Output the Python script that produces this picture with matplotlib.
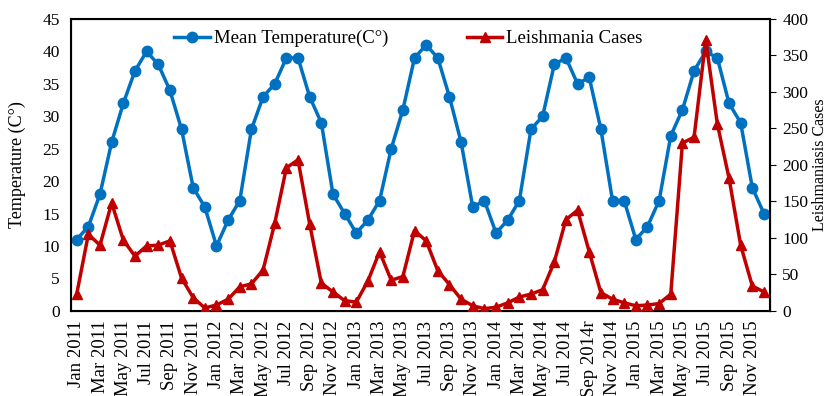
import numpy as np
import matplotlib.pyplot as plt

plt.rcParams['font.family'] = ['Liberation Serif', 'DejaVu Serif']

# 月份标签（每月一个点，2011-01 到 2015-12）
months = ['Jan', 'Feb', 'Mar', 'Apr', 'May', 'Jun',
          'Jul', 'Aug', 'Sep', 'Oct', 'Nov', 'Dec']
years = [2011, 2012, 2013, 2014, 2015]
labels = [f'{m} {y}' for y in years for m in months]
labels[labels.index('Sep 2014')] = 'Sep 2014r'  # 原图里的笔误

temperature = [11, 13, 18, 26, 32, 37, 40, 38, 34, 28, 19, 16,
               10, 14, 17, 28, 33, 35, 39, 39, 33, 29, 18, 15,
               12, 14, 17, 25, 31, 39, 41, 39, 33, 26, 16, 17,
               12, 14, 17, 28, 30, 38, 39, 35, 36, 28, 17, 17,
               11, 13, 17, 27, 31, 37, 40, 39, 32, 29, 19, 15]

cases = [23, 105, 90, 148, 97, 75, 89, 90, 96, 45, 18, 4,
         8, 16, 33, 37, 56, 120, 196, 207, 119, 38, 26, 14,
         12, 41, 81, 42, 47, 110, 96, 55, 36, 16, 7, 3,
         5, 11, 19, 23, 29, 67, 125, 138, 81, 25, 16, 11,
         7, 8, 10, 23, 230, 238, 371, 256, 182, 90, 34, 26]

x = np.arange(len(labels))

fig = plt.figure(figsize=(8.34, 3.96), dpi=100)
ax = fig.add_axes([0.085, 0.215, 0.838, 0.737])
ax2 = ax.twinx()

l1, = ax.plot(x, temperature, color='#0070C0', lw=2.5, marker='o', ms=7.5,
              label='Mean Temperature(C°)', zorder=3)
l2, = ax2.plot(x, cases, color='#C00000', lw=2.5, marker='^', ms=7.5,
               label='Leishmania Cases', zorder=3)

ax.set_xlim(-0.5, len(labels) - 0.5)
ax.set_ylim(0, 45)
ax.set_yticks(range(0, 46, 5))
ax2.set_ylim(0, 400)
ax2.set_yticks(range(0, 401, 50))

ax.set_xticks(x[::2])
ax.set_xticklabels(labels[::2], rotation=90, fontsize=13.5)
ax.tick_params(axis='x', length=0, pad=7)
ax.tick_params(axis='y', labelsize=12.5, length=0, pad=8)
ax2.tick_params(axis='y', labelsize=12.5, direction='out', length=4, pad=5)

ax.set_ylabel('Temperature (C°)', fontsize=13, labelpad=12)
ax2.set_ylabel('Leishmaniasis Cases', fontsize=11.5, labelpad=3)

for sp in ax2.spines.values():
    sp.set_linewidth(1.5)

ax2.legend([l1, l2], [l1.get_label(), l2.get_label()], loc='upper center',
           ncol=2, frameon=False, fontsize=13.5, handlelength=1.9,
           handletextpad=0.2, columnspacing=4.2,
           bbox_to_anchor=(0.483, 1.02))

fig.savefig('out.png', dpi=100)
